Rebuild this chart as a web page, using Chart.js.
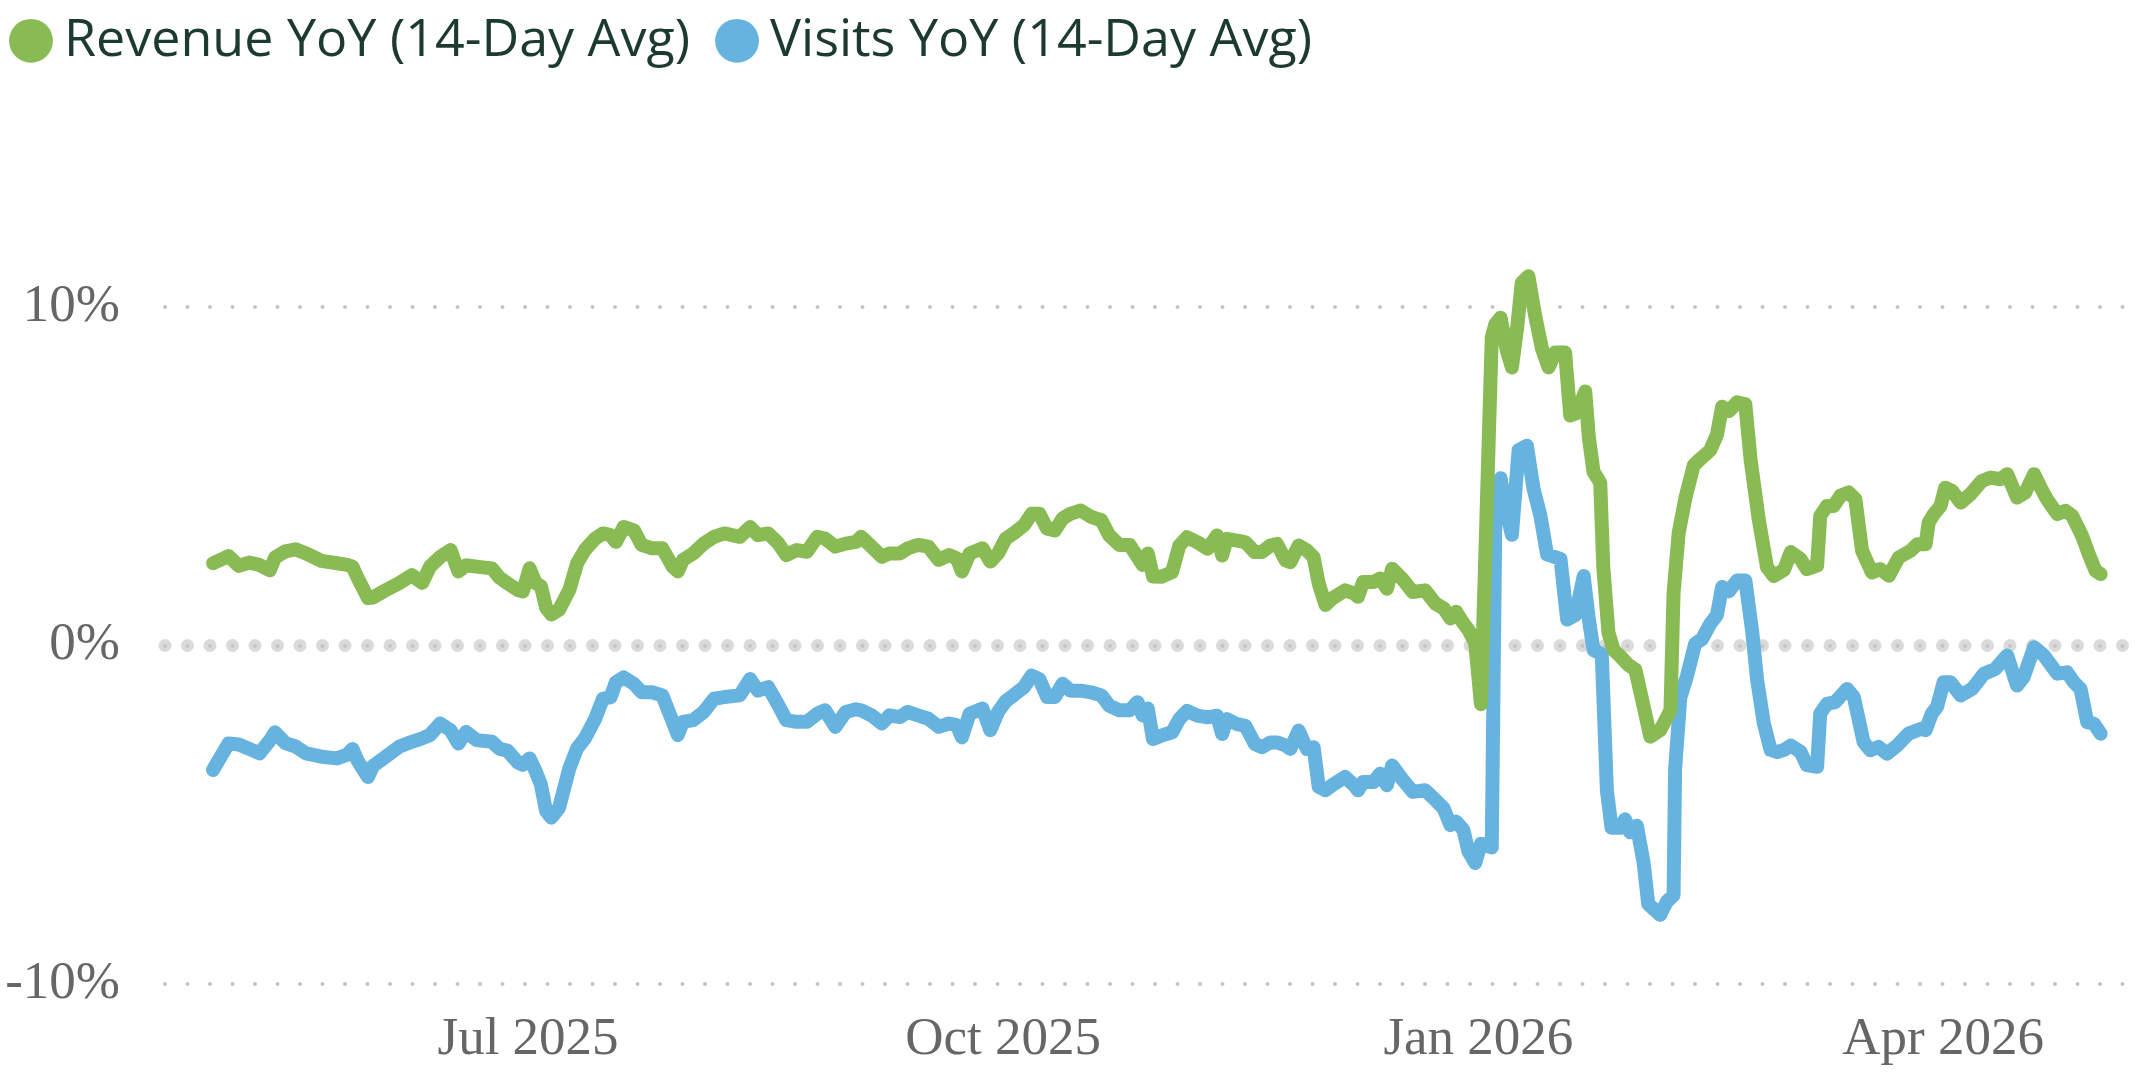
<!DOCTYPE html>
<html>
<head>
<meta charset="utf-8">
<script src="https://cdn.jsdelivr.net/npm/chart.js@4.4.1/dist/chart.umd.min.js"></script>
<style>
  html, body { margin: 0; padding: 0; background: #fff; }
  #wrap { width: 2144px; height: 1074px; }
</style>
</head>
<body>
<div id="wrap"><canvas id="yoyCanvas"></canvas></div>
<script>
// ===============================
// Data (x = days since 2025-05-01)
// ===============================
const seriesNames = ["Revenue YoY (14-Day Avg)", "Visits YoY (14-Day Avg)"];

const revenueDays = [
  0, 3, 5, 7, 9, 11, 12, 14, 16, 18, 21, 24, 26, 27, 28, 30, 31, 33, 36, 38.5,
  40.5, 42, 44, 46, 47.5, 49, 51, 54, 55.5, 57, 59,
  60, 61.3, 62.5, 63.5, 64.5, 65.5, 67, 69, 70.5, 72, 74, 75.5, 77, 78, 79.5, 81.5, 83, 85, 87, 89,
  90, 91, 93, 95, 97, 99, 102, 104, 105.5, 107.5, 109.5, 111, 113, 115, 117, 118.5, 120.5, 122.5,
  124.5, 125.5, 127.5, 129.5, 131, 133, 134.5, 136.5, 138.5, 140.5, 142.5, 144, 145, 146.5, 149, 150.5,
  152, 153.5, 155, 157, 158.5, 160, 161.5, 163, 164.5, 166, 168, 170, 172, 173.5, 175.5, 177.5, 179, 180, 181, 182,
  183.6, 185.7, 187.1, 188.6, 190.6, 192.6, 194.4, 195.4, 196.3, 198.3, 199.9, 201.7, 203.1, 204.7, 206.0,
  207.7, 208.6, 210.2, 211.8, 213.1, 214.1, 215.4, 216.7, 219.2, 220.9, 221.7, 222.7, 224.7, 226.0, 227.3,
  228.3, 230.2, 232.3, 234.7, 236.7, 238.3, 239.6, 240.7, 242.1, 243.1, 244.4, 245.5,
  247.6, 248.3, 249.3, 250.5, 251.5, 252.5, 253.4, 254.7, 256, 257.3, 258.6, 259.9, 261.8, 262.8, 264,
  265.7, 266.4, 267.3, 268.6, 269.2, 270.2, 271.2, 272.5, 274.1, 275.4, 277, 278.3, 280.2, 282.2, 282.8,
  283.8, 285.1, 286.7, 288, 289.9, 291.2, 292.2, 293.5, 295.1, 296.7, 297.7, 299.3, 300.9, 302.2, 304.2, 305.5,
  307.4, 308.6, 310.6, 311.2, 312.5, 313.8, 315.1, 316.7, 318, 319.3, 321.2, 322.8, 324.5, 326.4, 328.7,
  330, 331.6, 332.2, 333.2, 334.5, 335.4, 336.7, 338.4, 340.3, 342.5, 344.2, 346.1, 347.4, 349.3, 350.9,
  352.6, 353.9, 355.1, 357.1, 358.7, 360, 361.9, 363.2, 364.5, 365.5
];

const revenueYoY = [
  2.43, 2.64, 2.35, 2.45, 2.38, 2.22, 2.60, 2.78, 2.84, 2.72, 2.50, 2.43, 2.38, 2.33, 2.00, 1.40, 1.42, 1.60, 1.84, 2.08,
  1.85, 2.33, 2.62, 2.82, 2.19, 2.37, 2.33, 2.28, 2.00, 1.84, 1.64,
  1.60, 2.28, 1.84, 1.75, 1.11, 0.92, 1.06, 1.65, 2.43, 2.82, 3.16, 3.31, 3.26, 3.06, 3.50, 3.40, 2.97, 2.87, 2.87, 2.33,
  2.19, 2.53, 2.72, 3.01, 3.21, 3.31, 3.21, 3.50, 3.26, 3.31, 3.01, 2.67, 2.82, 2.77, 3.21, 3.16, 2.92, 3.01,
  3.06, 3.21, 2.92, 2.62, 2.72, 2.72, 2.87, 2.97, 2.92, 2.53, 2.67, 2.58, 2.19, 2.72, 2.87, 2.48,
  2.72, 3.16, 3.31, 3.55, 3.89, 3.89, 3.45, 3.40, 3.75, 3.89, 3.99, 3.80, 3.70, 3.26, 2.97, 2.97, 2.62, 2.38, 2.72, 2.04,
  2.03, 2.17, 2.95, 3.20, 3.05, 2.86, 3.25, 2.66, 3.15, 3.10, 3.05, 2.76, 2.76, 2.95, 3.00,
  2.51, 2.46, 2.95, 2.81, 2.61, 1.83, 1.20, 1.39, 1.63, 1.54, 1.44, 1.88, 1.88, 1.98, 1.68,
  2.27, 1.98, 1.58, 1.63, 1.24, 1.10, 0.80, 1.00, 0.66, 0.46, 0.07, -1.73,
  9.10, 9.49, 9.68, 8.72, 8.21, 9.36, 10.71, 10.90, 9.74, 8.78, 8.21, 8.65, 8.65, 6.79, 6.86,
  7.50, 6.15, 5.13, 4.81, 2.31, 0.38, -0.13, -0.32, -0.58, -0.71, -1.79, -2.69, -2.50, -1.92, 1.54,
  3.33, 4.36, 5.32, 5.51, 5.77, 6.22, 7.05, 6.92, 7.18, 7.12, 5.51, 3.72, 2.31, 2.05, 2.24, 2.76,
  2.55, 2.26, 2.36, 3.83, 4.12, 4.12, 4.42, 4.52, 4.32, 2.80, 2.16, 2.26, 2.06, 2.60, 2.80,
  2.99, 2.99, 3.63, 3.88, 4.12, 4.66, 4.57, 4.22, 4.47, 4.86, 4.96, 4.91, 5.06, 4.37, 4.52,
  5.06, 4.66, 4.32, 3.88, 3.98, 3.83, 3.24, 2.70, 2.21, 2.11
];

const visitsDays = [
  0, 3, 5, 7, 9, 11, 12, 14, 16, 18, 21, 24, 26, 27, 28, 30, 31, 33, 36, 38.5,
  40.5, 42, 44, 46, 47.5, 49, 51, 54, 55.5, 57, 59,
  60, 61.3, 62.5, 63.5, 64.5, 65.5, 67, 69, 70.5, 72, 74, 75.5, 77, 78, 79.5, 81.5, 83, 85, 87, 89,
  90, 91, 93, 95, 97, 99, 102, 104, 105.5, 107.5, 109.5, 111, 113, 115, 117, 118.5, 120.5, 122.5,
  124.5, 125.5, 127.5, 129.5, 131, 133, 134.5, 136.5, 138.5, 140.5, 142.5, 144, 145, 146.5, 149, 150.5,
  152, 153.5, 155, 157, 158.5, 160, 161.5, 163, 164.5, 166, 168, 170, 172, 173.5, 175.5, 177.5, 179, 180, 181, 182,
  183.6, 185.7, 187.1, 188.6, 190.6, 192.6, 194.4, 195.4, 196.3, 198.3, 199.9, 201.7, 203.1, 204.7, 206.0,
  207.7, 208.6, 210.2, 211.8, 213.1, 214.1, 215.4, 216.7, 219.2, 220.9, 221.7, 222.7, 224.7, 226.0, 227.3,
  228.3, 230.2, 232.3, 234.7, 236.7, 238.3, 239.6, 240.7, 242.1, 243.1, 244.4, 245.5,
  246.5, 247.6, 248.3, 249.3, 250.2, 251.5, 252.8, 254.4, 255.7, 257, 258.3, 260.9, 262.2, 263.8, 265.4,
  266.4, 267.3, 268.9, 269.9, 270.8, 272.5, 273.4, 274.4, 275.7, 277, 277.9, 280.2, 281.5, 282.8, 283.1,
  284.1, 285.4, 287, 288.3, 289.9, 291.2, 292.2, 293.5, 295.1, 296.7, 298, 299, 300.3, 301.6, 302.9, 304.2, 305.5,
  307.4, 308.6, 310.6, 311.2, 312.5, 314.1, 316.4, 317.7, 319.6, 320.9, 322.5, 324.1, 326.1, 328.3, 330.9,
  331.6, 332.8, 333.8, 335.1, 336.4, 338.4, 340.6, 342.9, 345.1, 347.4, 349.3, 350.6, 352.6, 354.5, 357.1,
  359, 360.3, 361.6, 362.9, 364.2, 365.5
];

const visitsYoY = [
  -3.67, -2.89, -2.92, -3.05, -3.18, -2.80, -2.56, -2.88, -2.98, -3.18, -3.28, -3.33, -3.22, -3.05, -3.40, -3.88, -3.55, -3.33, -2.99, -2.84,
  -2.74, -2.64, -2.30, -2.50, -2.89, -2.55, -2.79, -2.84, -3.05, -3.10, -3.45,
  -3.52, -3.33, -3.72, -4.11, -4.89, -5.08, -4.79, -3.62, -3.03, -2.74, -2.16, -1.57, -1.52, -1.08, -0.94, -1.13, -1.38, -1.38, -1.47, -2.25,
  -2.64, -2.25, -2.20, -1.96, -1.57, -1.52, -1.47, -0.99, -1.33, -1.23, -1.77, -2.20, -2.25, -2.25, -2.01, -1.91, -2.40, -1.96,
  -1.88, -1.91, -2.06, -2.30, -2.06, -2.11, -1.96, -2.06, -2.16, -2.40, -2.30, -2.35, -2.71, -2.01, -1.86, -2.50,
  -1.96, -1.64, -1.47, -1.23, -0.89, -0.99, -1.52, -1.52, -1.13, -1.33, -1.33, -1.38, -1.47, -1.77, -1.91, -1.91, -1.67, -2.06, -1.86, -2.76,
  -2.66, -2.56, -2.17, -1.93, -2.07, -2.12, -2.07, -2.61, -2.17, -2.32, -2.37, -2.90, -3.00, -2.86, -2.86,
  -2.95, -3.05, -2.51, -3.05, -3.00, -4.17, -4.27, -4.12, -3.88, -4.12, -4.27, -4.03, -4.03, -3.78, -4.12,
  -3.54, -3.93, -4.32, -4.27, -4.56, -4.81, -5.30, -5.20, -5.44, -6.08, -6.42, -5.85,
  -5.90, -5.96, 3.85, 4.94, 4.10, 3.27, 5.77, 5.90, 4.62, 3.85, 2.69, 2.56, 0.77, 0.90, 2.05,
  0.77, -0.13, -0.26, -4.29, -5.38, -5.38, -5.13, -5.51, -5.32, -6.41, -7.63, -7.95, -7.56, -7.37, -3.65,
  -1.54, -0.90, 0.06, 0.19, 0.64, 0.90, 1.73, 1.60, 1.92, 1.92, 0.45, -1.03, -2.31, -3.08, -3.14, -3.08, -2.95,
  -3.14, -3.53, -3.58, -2.01, -1.72, -1.67, -1.28, -1.52, -2.85, -3.09, -2.99, -3.19, -2.95, -2.60, -2.45,
  -2.50, -2.01, -1.82, -1.08, -1.08, -1.47, -1.28, -0.83, -0.69, -0.29, -1.18, -0.93, -0.05, -0.29, -0.83,
  -0.79, -1.08, -1.28, -2.26, -2.31, -2.60
];

// x ticks: first day of Jul / Oct / Jan / Apr
const tickDays = [61, 153, 245, 335];
const tickLabels = ["Jul 2025", "Oct 2025", "Jan 2026", "Apr 2026"];
// 0 twice: a wide light dot row plus a small darker one on top
const yTicks = [-10, 0, 0, 10];

// ===============================
// Styles
// ===============================
const GREEN = "#89bb55";
const BLUE = "#67b3df";

function toPoints(days, values) {
  return days.map((d, i) => ({ x: d, y: values[i] }));
}

// grid lines drawn as round dots
const roundDots = {
  id: "roundDots",
  beforeDraw(chart) {
    chart.ctx.lineCap = "round";
  }
};

function gridWidth(c) {
  if (!c.tick) return 0;
  if (c.tick.value !== 0) return 4;
  return c.index === 1 ? 13 : 4;
}

function gridColor(c) {
  if (c.tick && c.tick.value === 0 && c.index === 1) return "#dadada";
  return "#c4c4c4";
}

// ===============================
// Chart
// ===============================
const yoyCanvas = document.getElementById("yoyCanvas");

const yoyChart = new Chart(yoyCanvas, {
  type: "line",
  data: {
    datasets: [{
      label: seriesNames[0],
      data: toPoints(revenueDays, revenueYoY),
      borderColor: GREEN,
      backgroundColor: GREEN,
      borderWidth: 14
    },
    {
      label: seriesNames[1],
      data: toPoints(visitsDays, visitsYoY),
      borderColor: BLUE,
      backgroundColor: BLUE,
      borderWidth: 14
    }]
  },
  options: {
    responsive: true,
    maintainAspectRatio: false,
    animation: false,
    elements: {
      line: { tension: 0, borderJoinStyle: "round", borderCapStyle: "round" },
      point: { radius: 0, hoverRadius: 0 }
    },
    layout: { padding: { top: -41, left: -16, right: 17, bottom: 0 } },
    plugins: {
      tooltip: { enabled: false },
      legend: {
        position: "top",
        align: "start",
        labels: {
          usePointStyle: true,
          pointStyle: "circle",
          boxWidth: 14,
          boxHeight: 31,
          padding: 40,
          color: "#1c3a30",
          font: { family: "'Open Sans', sans-serif", size: 52 },
          generateLabels(chart) {
            return Chart.defaults.plugins.legend.labels.generateLabels(chart)
              .map(item => ({ ...item, lineWidth: 0 }));
          }
        }
      }
    },
    scales: {
      x: {
        type: "linear",
        min: -9.3,
        max: 370.6,
        afterFit(scale) { scale.height = 74; },
        afterBuildTicks(scale) { scale.ticks = tickDays.map(v => ({ value: v })); },
        grid: { display: false },
        border: { display: false },
        ticks: {
          autoSkip: false,
          maxRotation: 0,
          padding: 3,
          color: "#666666",
          font: { family: "'Liberation Serif', serif", size: 53 },
          callback: (v) => tickLabels[tickDays.indexOf(v)]
        }
      },
      y: {
        min: -10.38,
        max: 16.79,
        afterFit(scale) { scale.width = 181; },
        afterBuildTicks(scale) { scale.ticks = yTicks.map(v => ({ value: v })); },
        grid: {
          drawTicks: false,
          color: gridColor,
          lineWidth: gridWidth
        },
        border: { display: false, dash: [0, 22.5] },
        ticks: {
          padding: 45,
          color: "#666666",
          font: { family: "'Liberation Serif', serif", size: 53 },
          callback: (v, i) => (i === 2 ? "" : v + "%")
        }
      }
    }
  },
  plugins: [roundDots]
});
</script>
</body>
</html>
